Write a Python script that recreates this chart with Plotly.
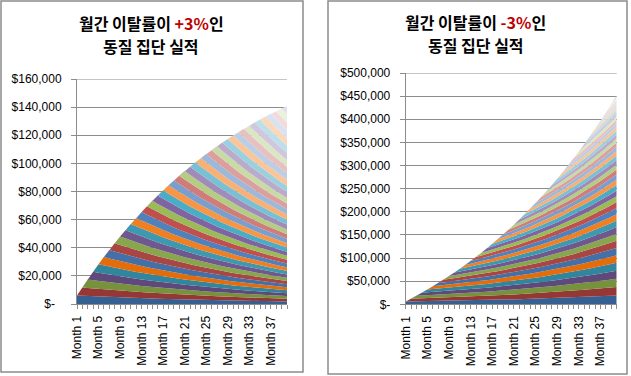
import plotly.graph_objects as go

# ---------------- data ----------------
MONTHS = list(range(1, 41))
LABELED_MONTHS = [1, 5, 9, 13, 17, 21, 25, 29, 33, 37]

# revenue of one cohort by age in months (every cohort is identical, starting one month later)
COHORT_CURVE_PLUS3 = [6000, 5820, 5645, 5476, 5312, 5152, 4998, 4848, 4703, 4561,
                      4425, 4292, 4163, 4038, 3917, 3800, 3686, 3575, 3468, 3364,
                      3263, 3165, 3070, 2978, 2889, 2802, 2718, 2636, 2557, 2481,
                      2406, 2334, 2264, 2196, 2130, 2066, 2004, 1944, 1886, 1829]
COHORT_CURVE_MINUS3 = [6000, 6180, 6365, 6556, 6753, 6956, 7164, 7379, 7601, 7829,
                       8063, 8305, 8555, 8811, 9076, 9348, 9628, 9917, 10215, 10521,
                       10837, 11162, 11497, 11842, 12197, 12563, 12940, 13328, 13728, 14139,
                       14564, 15000, 15450, 15914, 16391, 16883, 17390, 17911, 18449, 19002]

Y_TICKS_LEFT = [0, 20000, 40000, 60000, 80000, 100000, 120000, 140000, 160000]
Y_LABELS_LEFT = ["$-\u00a0\u00a0", "$20,000", "$40,000", "$60,000", "$80,000",
                 "$100,000", "$120,000", "$140,000", "$160,000"]
Y_TICKS_RIGHT = [0, 50000, 100000, 150000, 200000, 250000, 300000, 350000, 400000, 450000, 500000]
Y_LABELS_RIGHT = ["$-", "$50,000", "$100,000", "$150,000", "$200,000", "$250,000",
                  "$300,000", "$350,000", "$400,000", "$450,000", "$500,000"]

TITLE_LEFT = ["월간 이탈률이 ", "+3%", "인", "동질 집단 실적"]
TITLE_RIGHT = ["월간 이탈률이 ", "-3%", "인", "동질 집단 실적"]

# palette: 6 accents x shade levels (dark -> light)
PALETTE = [
    ["#376092", "#953735", "#76923C", "#5F497A", "#31859C", "#E46C0A"],
    ["#4470A8", "#A94643", "#88A64E", "#70588E", "#3E98B0", "#F07F22"],
    ["#4F81BD", "#C0504D", "#9BBB59", "#8064A2", "#4BACC6", "#F79646"],
    ["#7B9FCD", "#D07C7A", "#B4CC83", "#A08BB9", "#78C0D4", "#F9B074"],
    ["#9EB8DA", "#DD9F9D", "#C8DAA5", "#BAABCB", "#9DD0DE", "#FBC59A"],
    ["#BCCEE6", "#E8C0BF", "#DAE6C4", "#D0C6DD", "#BDDFE9", "#FCD8BB"],
    ["#D8E3F1", "#F2DCDB", "#EAF1DD", "#E5DFEC", "#DAEEF3", "#FDE9D9"],
]

W, H = 631, 376
GRAY = "#8C8C8C"
TICKFONT = dict(family="Liberation Sans, Arial", size=12, color="#000000")

fig = go.Figure()


def add_cohorts(curve, xa, ya, group):
    n = len(MONTHS)
    for k in range(n):
        vals = [curve[m - k] if m >= k else 0 for m in range(n)]
        c = PALETTE[(k // 6) % len(PALETTE)][k % 6]
        fig.add_trace(go.Scatter(
            x=MONTHS, y=vals, xaxis=xa, yaxis=ya, stackgroup=group,
            mode="lines", line=dict(width=0, color=c), fillcolor=c,
            showlegend=False, hoverinfo="skip"))


add_cohorts(COHORT_CURVE_PLUS3, "x", "y", "L")
add_cohorts(COHORT_CURVE_MINUS3, "x2", "y2", "R")


def px_x(p):
    return p / W


def px_y(p):
    return 1 - p / H


xticktext = [f"Month {m}" if m in LABELED_MONTHS else "" for m in MONTHS]

xaxis_common = dict(range=[1, 40], tickmode="array", tickvals=MONTHS, ticktext=xticktext,
                    tickangle=-90, ticks="outside", ticklen=4, tickcolor=GRAY,
                    showline=True, linecolor=GRAY, linewidth=1, showgrid=False,
                    zeroline=False, tickfont=TICKFONT, ticklabelstandoff=2, automargin=False)
yaxis_common = dict(ticks="outside", ticklen=5, tickcolor=GRAY, showline=True,
                    linecolor=GRAY, linewidth=1, showgrid=True, gridcolor=GRAY,
                    gridwidth=1, zeroline=False, tickfont=TICKFONT, ticklabelstandoff=7,
                    automargin=False)

fig.update_layout(
    template="none",
    width=W, height=H, margin=dict(l=0, r=0, t=0, b=0, pad=0, autoexpand=False),
    paper_bgcolor="white", plot_bgcolor="white",
    xaxis=dict(domain=[px_x(77), px_x(287)], anchor="y", **xaxis_common),
    yaxis=dict(domain=[px_y(304), px_y(79)], anchor="x", range=[0, 160000],
               tickmode="array", tickvals=Y_TICKS_LEFT, ticktext=Y_LABELS_LEFT, **yaxis_common),
    xaxis2=dict(domain=[px_x(405.7), px_x(616.7)], anchor="y2", **xaxis_common),
    yaxis2=dict(domain=[px_y(304.3), px_y(73)], anchor="x2", range=[0, 500000],
                tickmode="array", tickvals=Y_TICKS_RIGHT, ticktext=Y_LABELS_RIGHT, **yaxis_common),
)

# top gridlines (at the upper end of each value axis)
fig.add_shape(type="line", xref="x domain", yref="y", x0=0, x1=1,
              y0=Y_TICKS_LEFT[-1], y1=Y_TICKS_LEFT[-1], line=dict(color=GRAY, width=1), layer="below")
fig.add_shape(type="line", xref="x2 domain", yref="y2", x0=0, x1=1,
              y0=Y_TICKS_RIGHT[-1], y1=Y_TICKS_RIGHT[-1], line=dict(color=GRAY, width=1), layer="below")

# chart-area borders
fig.add_shape(type="rect", xref="paper", yref="paper",
              x0=px_x(1), x1=px_x(303), y0=px_y(372), y1=px_y(1),
              line=dict(color=GRAY, width=1.5), fillcolor="rgba(0,0,0,0)", layer="above")
fig.add_shape(type="rect", xref="paper", yref="paper",
              x0=px_x(328), x1=px_x(627), y0=px_y(374), y1=px_y(1),
              line=dict(color=GRAY, width=1.5), fillcolor="rgba(0,0,0,0)", layer="above")

TITLE_FONT = dict(family="Noto Sans CJK KR", size=16, color="#000000")


def add_title(parts, cx, y1, y2):
    line1 = f"<b>{parts[0]}<span style='color:#C00000'>{parts[1]}</span>{parts[2]}</b>"
    line2 = f"<b>{parts[3]}</b>"
    fig.add_annotation(text=line1, x=px_x(cx), y=px_y(y1), xref="paper", yref="paper",
                       xanchor="center", yanchor="middle", showarrow=False, font=TITLE_FONT)
    fig.add_annotation(text=line2, x=px_x(cx), y=px_y(y2), xref="paper", yref="paper",
                       xanchor="center", yanchor="middle", showarrow=False, font=TITLE_FONT)


add_title(TITLE_LEFT, 151, 23, 46)
add_title(TITLE_RIGHT, 475.5, 22, 45)

POST = ("document.documentElement.style.margin='0';"
        "document.documentElement.style.padding='0';"
        "document.body.style.margin='0';document.body.style.padding='0';"
        "document.body.style.overflow='hidden';"
        "var d=document.getElementsByClassName('plotly-graph-div')[0];"
        "d.style.position='absolute';d.style.left='0px';d.style.top='0px';")

fig.write_html("out.html", config={"displayModeBar": False}, post_script=POST)
